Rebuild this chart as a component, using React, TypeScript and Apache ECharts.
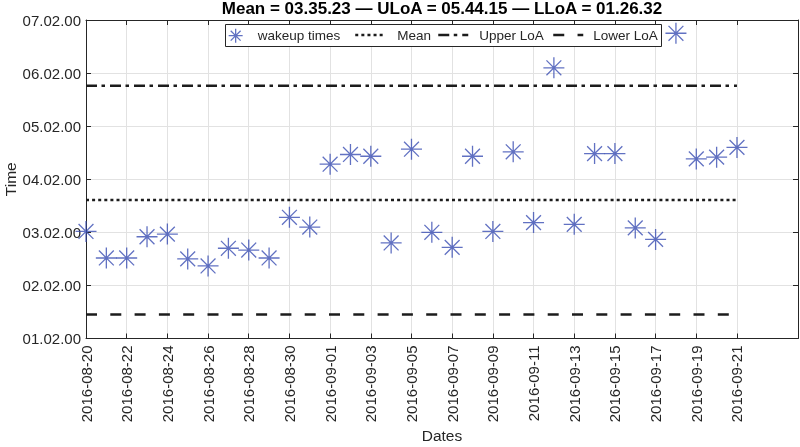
import React, { useEffect, useRef } from 'react';
import * as echarts from 'echarts';

// ---------- data ----------
const dates: string[] = [
  '2016-08-20', '2016-08-21', '2016-08-22', '2016-08-23', '2016-08-24', '2016-08-25',
  '2016-08-26', '2016-08-27', '2016-08-28', '2016-08-29', '2016-08-30', '2016-08-31',
  '2016-09-01', '2016-09-02', '2016-09-03', '2016-09-04', '2016-09-05', '2016-09-06',
  '2016-09-07', '2016-09-08', '2016-09-09', '2016-09-10', '2016-09-11', '2016-09-12',
  '2016-09-13', '2016-09-14', '2016-09-15', '2016-09-16', '2016-09-17', '2016-09-18',
  '2016-09-19', '2016-09-20', '2016-09-21',
];
// wake-up time of day, in minutes after midnight
const wakeupMinutes: number[] = [
  183, 153, 153, 177, 180, 152, 144, 164, 162, 153, 199, 188,
  259, 270, 268, 170, 276, 182, 165, 268, 183, 273, 193, 368,
  191, 271, 271, 187, 174, 407, 265, 267, 278,
];
const meanMinutes = 218.5;
const upperLoAMinutes = 347.6;
const lowerLoAMinutes = 89.2;

const xTickDates: string[] = [
  '2016-08-20', '2016-08-22', '2016-08-24', '2016-08-26', '2016-08-28', '2016-08-30',
  '2016-09-01', '2016-09-03', '2016-09-05', '2016-09-07', '2016-09-09', '2016-09-11',
  '2016-09-13', '2016-09-15', '2016-09-17', '2016-09-19', '2016-09-21',
];
const xAxisEndDate = '2016-09-24';
const yMinMinutes = 62; // 01.02.00
const yMaxMinutes = 422; // 07.02.00
const yStepMinutes = 60;

const titleText = 'Mean = 03.35.23 \u2014 ULoA = 05.44.15 \u2014 LLoA = 01.26.32';
const seriesNames = ['wakeup times', 'Mean', 'Upper LoA', 'Lower LoA'];

// ---------- helpers ----------
const DAY = 86400000;
const base = Date.parse(dates[0]);
const dayIndex = (d: string) => Math.round((Date.parse(d) - base) / DAY);
const pad2 = (n: number) => (n < 10 ? '0' : '') + n;
const fmtDate = (v: number) => {
  const d = new Date(base + Math.round(v) * DAY);
  return d.getUTCFullYear() + '-' + pad2(d.getUTCMonth() + 1) + '-' + pad2(d.getUTCDate());
};
const fmtTime = (v: number) => {
  const t = Math.round(v);
  return pad2(Math.floor(t / 60)) + '.' + pad2(t % 60) + '.00';
};

const FONT = '"Liberation Sans", Arial, Helvetica, sans-serif';
const AX = '#262626';
const GRID = '#e2e2e2';
const BLUE = '#3a4db3';
const LINEC = '#1c1c1c';
const STAR = 'path://M10 0L10 20M0 10L20 10M2.93 2.93L17.07 17.07M17.07 2.93L2.93 17.07';

export default function App() {
  const ref = useRef<HTMLDivElement>(null);
  useEffect(() => {
    if (!ref.current) return;
    const chart = echarts.init(ref.current, null, { renderer: 'svg' });
    const xTicks = xTickDates.map(dayIndex);
    const xMax = dayIndex(xAxisEndDate);
    const x0 = dayIndex(dates[0]);
    const x1 = dayIndex(dates[dates.length - 1]);
    const axisLine = { show: true, onZero: false, lineStyle: { color: AX, width: 1 } };
    const tick = { show: true, inside: true, length: 5, lineStyle: { color: AX, width: 1 } };
    const legendCommon = {
      top: 28, padding: 0, itemWidth: 30, itemHeight: 14, selectedMode: false,
      textStyle: { fontSize: 13.5, color: AX, fontFamily: FONT },
      lineStyle: { width: 2.5 }, z: 5,
    };
    const option: any = {
      animation: false,
      textStyle: { fontFamily: FONT },
      title: {
        text: titleText, left: 442, textAlign: 'center', top: 0, padding: 0,
        textStyle: { fontSize: 17, fontWeight: 'bold', color: '#000', fontFamily: FONT },
      },
      grid: {
        left: 86, right: 2, top: 20, bottom: 108.5,
        containLabel: false, outerBoundsMode: 'none',
      },
      xAxis: [
        {
          type: 'value', min: 0, max: xMax, interval: 2, position: 'bottom',
          axisLine, axisTick: { ...tick, customValues: xTicks },
          axisLabel: {
            customValues: xTicks, rotate: 90, margin: 7, fontSize: 15, color: AX,
            formatter: (v: number) => fmtDate(v),
          },
          splitLine: { show: true, lineStyle: { color: GRID, width: 1 } },
          name: 'Dates', nameLocation: 'middle', nameGap: 89, nameMoveOverlap: false,
          nameTextStyle: { fontSize: 15.5, color: AX },
        },
        {
          type: 'value', min: 0, max: xMax, interval: 2, position: 'top',
          axisLine, axisTick: { ...tick, customValues: xTicks },
          axisLabel: { show: false }, splitLine: { show: false },
        },
      ],
      yAxis: [
        {
          type: 'value', min: yMinMinutes, max: yMaxMinutes, interval: yStepMinutes, position: 'left',
          axisLine, axisTick: tick,
          axisLabel: { margin: 5, fontSize: 15, color: AX, formatter: (v: number) => fmtTime(v) },
          splitLine: { show: true, lineStyle: { color: GRID, width: 1 } },
          name: 'Time', nameLocation: 'middle', nameGap: 68, nameMoveOverlap: false,
          nameTextStyle: { fontSize: 15.5, color: AX },
        },
        {
          type: 'value', min: yMinMinutes, max: yMaxMinutes, interval: yStepMinutes, position: 'right',
          axisLine, axisTick: tick, axisLabel: { show: false }, splitLine: { show: false },
        },
      ],
      legend: [
        {
          ...legendCommon, left: 228, data: [seriesNames[0]],
          itemStyle: { borderWidth: 1.3 },
          textStyle: { ...legendCommon.textStyle, padding: [0, 0, 0, 2] },
        },
        {
          ...legendCommon, left: 354, data: [{ name: seriesNames[1], itemStyle: { opacity: 0 } }],
          textStyle: { ...legendCommon.textStyle, padding: [0, 0, 0, 7] },
        },
        {
          ...legendCommon, left: 437, data: [{ name: seriesNames[2], itemStyle: { opacity: 0 } }],
          textStyle: { ...legendCommon.textStyle, padding: [0, 0, 0, 6] },
        },
        {
          ...legendCommon, left: 552, data: [{ name: seriesNames[3], itemStyle: { opacity: 0 } }],
          textStyle: { ...legendCommon.textStyle, padding: [0, 0, 0, 5] },
        },
      ],
      graphic: {
        elements: [
          {
            type: 'rect', z: 3, silent: true,
            shape: { x: 225.5, y: 24.5, width: 436, height: 22 },
            style: { fill: '#fff', stroke: AX, lineWidth: 1 },
          },
        ],
      },
      series: [
        {
          name: seriesNames[0], type: 'scatter', clip: false, z: 3,
          symbol: STAR, symbolSize: 21,
          itemStyle: { color: BLUE, borderColor: BLUE, borderWidth: 1.3 },
          emphasis: { disabled: true },
          data: dates.map((d, i) => [dayIndex(d), wakeupMinutes[i]]),
        },
        {
          name: seriesNames[1], type: 'line', symbol: 'none', silent: true, z: 2,
          lineStyle: { color: LINEC, width: 2.5, type: [3, 3.1], cap: 'butt' },
          itemStyle: { color: LINEC },
          data: [[x0, meanMinutes], [x1, meanMinutes]],
        },
        {
          name: seriesNames[2], type: 'line', symbol: 'none', silent: true, z: 2,
          lineStyle: { color: LINEC, width: 2.5, type: [11, 4.5, 3.5, 5], cap: 'butt' },
          itemStyle: { color: LINEC },
          data: [[x0, upperLoAMinutes], [x1, upperLoAMinutes]],
        },
        {
          name: seriesNames[3], type: 'line', symbol: 'none', silent: true, z: 2,
          lineStyle: { color: LINEC, width: 2.5, type: [11, 13.3], cap: 'butt' },
          itemStyle: { color: LINEC },
          data: [[x0, lowerLoAMinutes], [x1, lowerLoAMinutes]],
        },
      ],
    };
    chart.setOption(option);
    return () => chart.dispose();
  }, []);
  return <div ref={ref} style={{ position: 'fixed', left: 0, top: 0, width: 800, height: 447 }} />;
}
